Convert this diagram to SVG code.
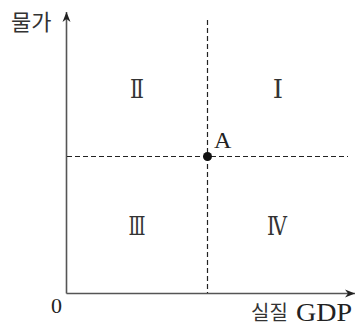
<svg xmlns="http://www.w3.org/2000/svg" width="359" height="325" viewBox="0 0 359 325">
<style>
.axis{stroke:#555;stroke-width:1.6;fill:none}
.dash{stroke:#222;stroke-width:1.2;stroke-dasharray:5 3;fill:none}
.ko{font-family:"Noto Sans CJK KR","Noto Sans",sans-serif;fill:#333}
.se{font-family:"Liberation Serif","DejaVu Serif",serif;fill:#222}
.rn{font-family:"Liberation Serif","DejaVu Serif","Noto Sans CJK KR",serif;font-size:26px;fill:#333;text-anchor:middle}
</style>
<defs>
<marker id="arr" viewBox="0 0 10 10" refX="10" refY="5" markerWidth="10" markerHeight="10" markerUnits="userSpaceOnUse" orient="auto">
<path d="M0,1 L10,5 L0,9 L3,5 Z" fill="#222"/>
</marker>
</defs>
<g id="connectors">
<line class="axis" x1="66.5" y1="293.5" x2="66.5" y2="12" marker-end="url(#arr)"/>
<line class="axis" x1="66.5" y1="293.5" x2="355" y2="293.5" marker-end="url(#arr)"/>
<line class="dash" x1="207.5" y1="20" x2="207.5" y2="293"/>
<line class="dash" x1="67" y1="156.5" x2="348" y2="156.5"/>
</g>
<g id="point-A">
<circle cx="207.5" cy="156.5" r="4.5" fill="#111"/>
<text class="se" x="214" y="148" font-size="24">A</text>
</g>
<g id="labels">
<text class="ko" x="11" y="30" font-size="22">물가</text>
<text class="se" x="51" y="313" font-size="22">0</text>
<text class="ko" x="251" y="320" font-size="20">실질</text>
<text class="se" x="296" y="321" font-size="25" textLength="56" lengthAdjust="spacingAndGlyphs">GDP</text>
</g>
<g id="quadrants">
<text class="rn" x="137" y="98" textLength="14" lengthAdjust="spacingAndGlyphs">Ⅱ</text>
<text class="rn" x="278" y="98">Ⅰ</text>
<text class="rn" x="137" y="235" textLength="17" lengthAdjust="spacingAndGlyphs">Ⅲ</text>
<text class="rn" x="277" y="235" textLength="20" lengthAdjust="spacingAndGlyphs">Ⅳ</text>
</g>
</svg>
